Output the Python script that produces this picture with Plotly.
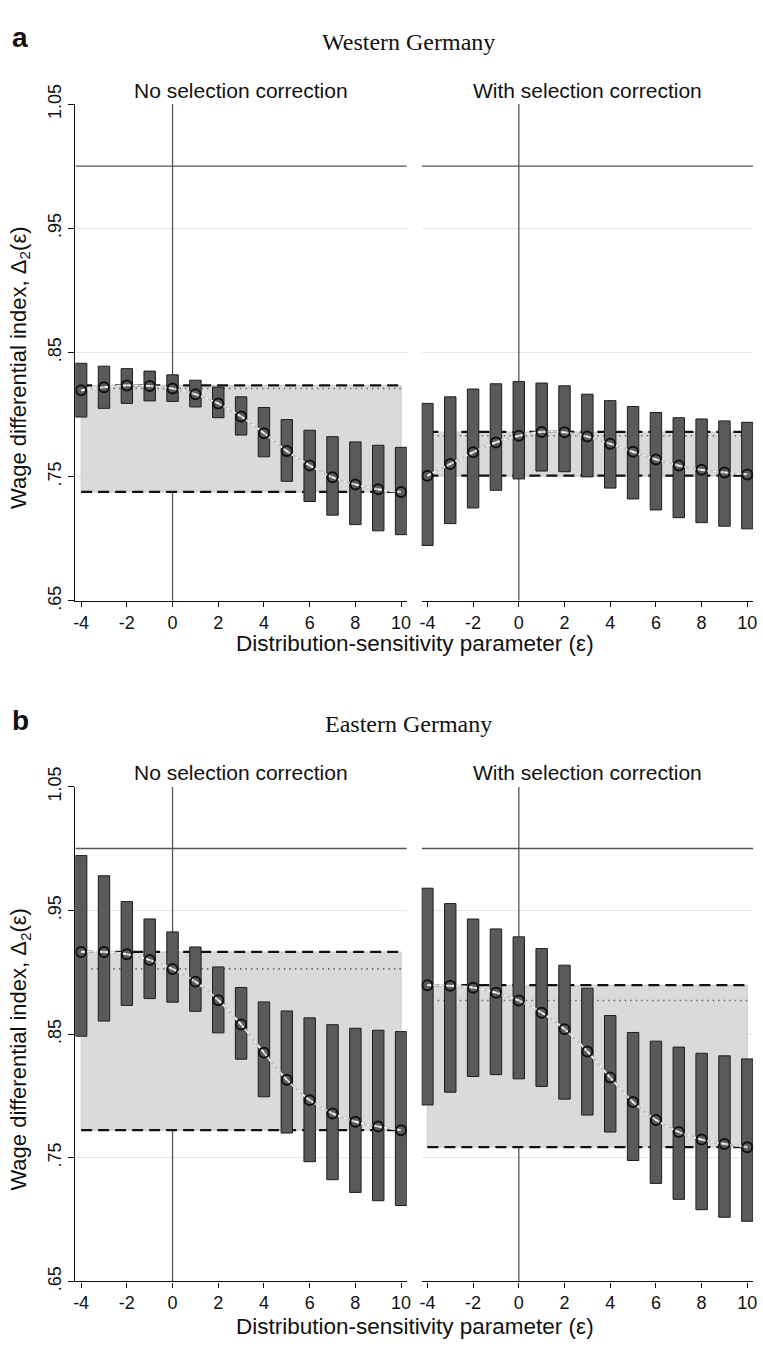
import plotly.graph_objects as go

# ---------------- data ----------------
eps = [-4, -3, -2, -1, 0, 1, 2, 3, 4, 5, 6, 7, 8, 9, 10]

# Western Germany, no selection correction
w_nc_est = [0.8195, 0.822, 0.8235, 0.823, 0.821, 0.8164, 0.809, 0.7985, 0.785, 0.7706, 0.759, 0.7495, 0.7437, 0.7398, 0.7377]
w_nc_hi = [0.8413, 0.839, 0.837, 0.835, 0.832, 0.8277, 0.8222, 0.8143, 0.8057, 0.796, 0.7874, 0.7822, 0.778, 0.7753, 0.7736]
w_nc_lo = [0.798, 0.805, 0.809, 0.811, 0.8106, 0.8061, 0.7975, 0.7835, 0.766, 0.7463, 0.730, 0.719, 0.7114, 0.7064, 0.7033]

# Western Germany, with selection correction
w_sc_est = [0.7508, 0.7602, 0.7697, 0.7776, 0.7829, 0.786, 0.7857, 0.7823, 0.7765, 0.770, 0.7639, 0.7589, 0.7555, 0.7534, 0.7518]
w_sc_hi = [0.809, 0.8143, 0.8206, 0.8248, 0.8266, 0.8254, 0.8232, 0.8164, 0.8112, 0.8065, 0.8017, 0.7975, 0.7965, 0.7949, 0.7938]
w_sc_lo = [0.6946, 0.7122, 0.7248, 0.739, 0.7482, 0.7545, 0.754, 0.7498, 0.7408, 0.7321, 0.7232, 0.717, 0.713, 0.7101, 0.708]

# Eastern Germany, no selection correction
e_nc_est = [0.9164, 0.9164, 0.9146, 0.9099, 0.9027, 0.8924, 0.8774, 0.8577, 0.835, 0.813, 0.7966, 0.7858, 0.7792, 0.7753, 0.7723]
e_nc_hi = [0.9943, 0.978, 0.9571, 0.9431, 0.9326, 0.9204, 0.9043, 0.8877, 0.876, 0.8687, 0.8631, 0.8576, 0.8547, 0.8531, 0.852]
e_nc_lo = [0.8483, 0.8605, 0.8732, 0.8787, 0.8758, 0.8684, 0.851, 0.8297, 0.7993, 0.770, 0.7468, 0.7323, 0.722, 0.7153, 0.7114]

# Eastern Germany, with selection correction
e_sc_est = [0.8895, 0.889, 0.8875, 0.8835, 0.8772, 0.8673, 0.854, 0.836, 0.8148, 0.795, 0.7806, 0.7708, 0.7647, 0.7612, 0.7586]
e_sc_hi = [0.9679, 0.9555, 0.943, 0.935, 0.9286, 0.9191, 0.9057, 0.8871, 0.865, 0.8513, 0.8443, 0.8395, 0.8345, 0.8324, 0.8299]
e_sc_lo = [0.7927, 0.803, 0.8157, 0.8172, 0.8138, 0.8077, 0.7974, 0.7845, 0.7708, 0.7478, 0.7293, 0.7164, 0.708, 0.7019, 0.6987]

x_ticks = [-4, -2, 0, 2, 4, 6, 8, 10]
x_tick_text = ["-4", "-2", "0", "2", "4", "6", "8", "10"]
y_ticks = [0.65, 0.75, 0.85, 0.95, 1.05]
y_tick_text = [".65", ".75", ".85", ".95", "1.05"]
ref_x = 0
ref_y = 1.0

panel_letters = ["a", "b"]
region_titles = ["Western Germany", "Eastern Germany"]
sub_titles = ["No selection correction", "With selection correction"]
x_title = "Distribution-sensitivity parameter (ε)"
y_title = "Wage differential index, Δ<sub>2</sub>(ε)"

# ---------------- layout helpers ----------------
W, H = 763, 1357
def px(x):
    return x / W
def py(y):
    return 1 - y / H

x_dom = [[74, 408], [423, 757]]
y_dom = [[86, 594], [784, 1290]]

XR = [-4.25, 10.25]
YR = [0.65, 1.05]

BAR = "#5a5a5a"
SHADE = "#d9dada"
GRID = "#e6e6e6"
REF = "#555555"
FONT = "Liberation Sans"

fig = go.Figure()
shapes = []

panels = [
    (0, 0, w_nc_est, w_nc_hi, w_nc_lo),
    (0, 1, w_sc_est, w_sc_hi, w_sc_lo),
    (1, 0, e_nc_est, e_nc_hi, e_nc_lo),
    (1, 1, e_sc_est, e_sc_hi, e_sc_lo),
]

for i, (r, c, est, hi, lo) in enumerate(panels):
    n = i + 1
    xa = "x" if n == 1 else f"x{n}"
    ya = "y" if n == 1 else f"y{n}"
    top = max(est)
    bot = min(est)
    at0 = est[eps.index(0)]
    xmin, xmax = eps[0], eps[-1]

    # reference lines (below the shaded band)
    shapes.append(dict(type="line", xref=xa, yref=ya, x0=ref_x, x1=ref_x, y0=YR[0], y1=YR[1],
                       line=dict(color=REF, width=1.3), layer="between"))
    shapes.append(dict(type="line", xref=xa, yref=ya, x0=XR[0], x1=XR[1], y0=ref_y, y1=ref_y,
                       line=dict(color=REF, width=1.3), layer="between"))
    # shaded range between min and max estimate
    shapes.append(dict(type="rect", xref=xa, yref=ya, x0=xmin, x1=xmax, y0=bot, y1=top,
                       fillcolor=SHADE, line=dict(color="#cccccc", width=1), layer="between"))
    # dotted line at the epsilon = 0 estimate
    shapes.append(dict(type="line", xref=xa, yref=ya, x0=xmin + 0.45, x1=xmax, y0=at0, y1=at0,
                       line=dict(color="#6a6a6a", width=1.6, dash="1.5px,4px"), layer="between"))
    # dashed max / min lines
    for v in (top, bot):
        shapes.append(dict(type="line", xref=xa, yref=ya, x0=xmin, x1=xmax, y0=v, y1=v,
                           line=dict(color="#111111", width=2.2, dash="11px,6px"), layer="between"))

    # confidence bars
    fig.add_trace(go.Bar(x=eps, y=[h - l for h, l in zip(hi, lo)], base=lo, width=0.5,
                         marker=dict(color=BAR, line=dict(color="#1e1e1e", width=1)),
                         xaxis=xa, yaxis=ya, hoverinfo="skip", showlegend=False))
    # connecting line
    fig.add_trace(go.Scatter(x=eps, y=est, mode="lines", line=dict(color="#c4c4c4", width=2.2, shape="spline"),
                             xaxis=xa, yaxis=ya, hoverinfo="skip", showlegend=False))
    fig.add_trace(go.Scatter(x=eps, y=est, mode="lines",
                             line=dict(color="#ffffff", width=1.2, shape="spline", dash="3px,3px"),
                             xaxis=xa, yaxis=ya, hoverinfo="skip", showlegend=False))
    # point estimates
    fig.add_trace(go.Scatter(x=eps, y=est, mode="markers",
                             marker=dict(symbol="circle-open", size=10, color="#111111",
                                         line=dict(width=2, color="#111111")),
                             xaxis=xa, yaxis=ya, hoverinfo="skip", showlegend=False))

    xkey = "xaxis" if n == 1 else f"xaxis{n}"
    ykey = "yaxis" if n == 1 else f"yaxis{n}"
    fig.layout[xkey] = dict(
        domain=[px(x_dom[c][0]), px(x_dom[c][1])], range=XR, anchor=ya,
        showline=True, linecolor="#111111", linewidth=1.2, mirror=False,
        ticks="outside", ticklen=5, tickcolor="#111111", tickwidth=1.2,
        tickvals=x_ticks, ticktext=x_tick_text, showgrid=False, zeroline=False,
        tickfont=dict(family=FONT, size=18, color="#111111"),
    )
    fig.layout[ykey] = dict(
        domain=[py(y_dom[r][1]), py(y_dom[r][0])], range=YR, anchor=xa,
        showline=(c == 0), linecolor="#111111", linewidth=1.2,
        ticks="outside" if c == 0 else "", ticklen=6, tickcolor="#111111", tickwidth=1.2,
        tickvals=y_ticks, ticktext=y_tick_text,
        showticklabels=(c == 0), tickangle=-90,
        showgrid=True, gridcolor=GRID, gridwidth=1.2, zeroline=False,
        tickfont=dict(family=FONT, size=18, color="#111111"),
    )

annotations = []
for r in range(2):
    off = y_dom[r][0] - y_dom[0][0]
    annotations.append(dict(text=f"<b>{panel_letters[r]}</b>", x=px(8), y=py(18 + off), xref="paper", yref="paper",
                            xanchor="left", yanchor="middle", showarrow=False,
                            font=dict(family=FONT, size=28, color="#111111")))
    annotations.append(dict(text=region_titles[r], x=px(410), y=py(22 + off), xref="paper", yref="paper",
                            xanchor="center", yanchor="middle", showarrow=False,
                            font=dict(family="Liberation Serif", size=24, color="#111111")))
    for c in range(2):
        annotations.append(dict(text=sub_titles[c], x=px((x_dom[c][0] + x_dom[c][1]) / 2), y=py(72 + off),
                                xref="paper", yref="paper", xanchor="center", yanchor="middle", showarrow=False,
                                font=dict(family=FONT, size=21, color="#111111")))
    annotations.append(dict(text=x_title, x=px(416), y=py(638 + off), xref="paper", yref="paper",
                            xanchor="center", yanchor="middle", showarrow=False,
                            font=dict(family=FONT, size=22.5, color="#111111")))
    annotations.append(dict(text=y_title, x=px(18), y=py((y_dom[r][0] + y_dom[r][1]) / 2 + 15), xref="paper",
                            yref="paper", xanchor="center", yanchor="middle", showarrow=False, textangle=-90,
                            font=dict(family=FONT, size=22, color="#111111")))

fig.update_layout(
    width=W, height=H, margin=dict(l=0, r=0, t=0, b=0),
    paper_bgcolor="white", plot_bgcolor="white",
    barmode="overlay", showlegend=False, annotations=annotations, shapes=shapes,
)

fig.write_html("out.html", config={"displayModeBar": False},
               post_script="document.body.style.margin='0px';")
